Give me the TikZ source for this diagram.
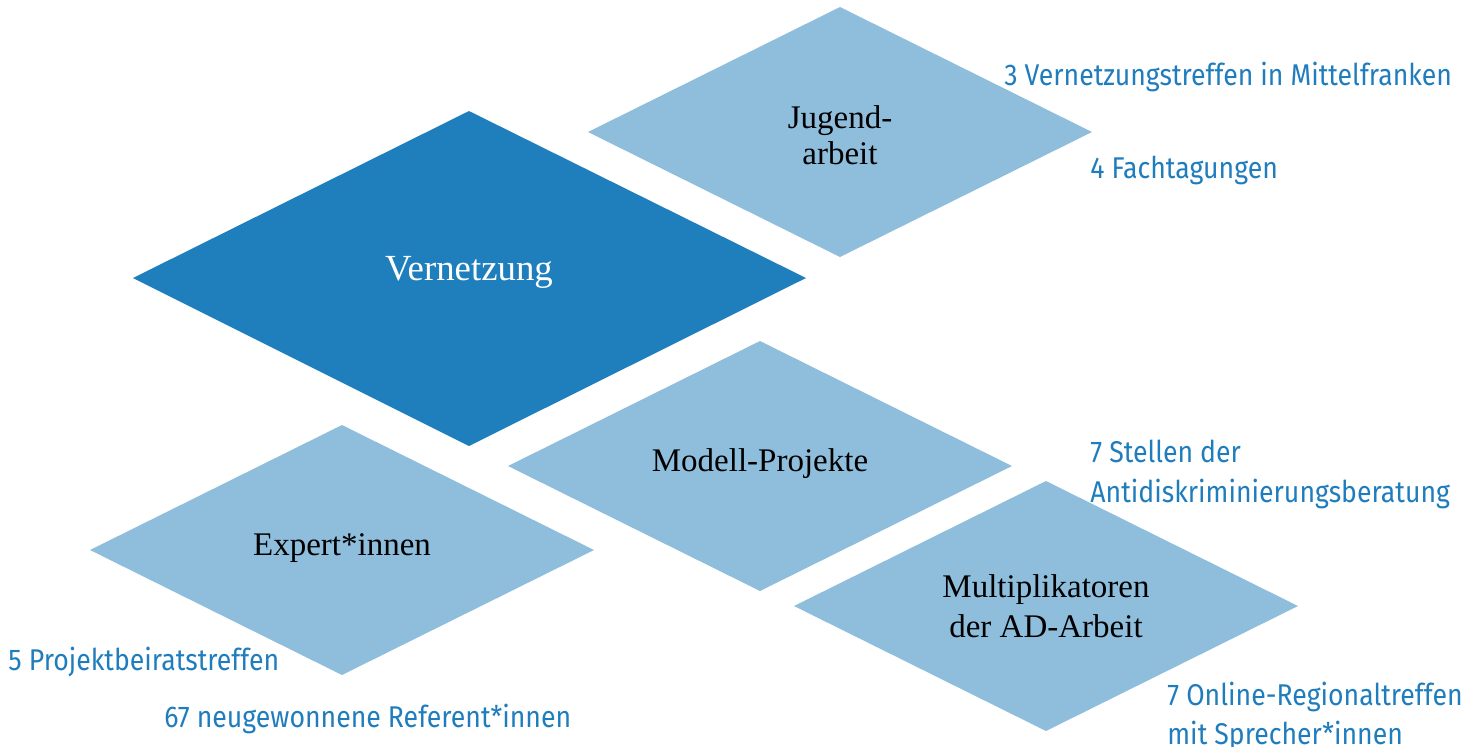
\documentclass[tikz,border=0pt]{standalone}
\usepackage{fontspec}
\setmainfont{Liberation Serif}
\newfontfamily\annfont[FakeStretch=0.888]{Fira Sans}
\definecolor{darkblue}{RGB}{31,127,188}
\definecolor{lightblue}{RGB}{143,190,221}
\definecolor{anncol}{RGB}{31,125,189}
\tikzset{
  lbl/.style={anchor=base, font=\fontsize{16.5}{20}\selectfont, text=black, inner sep=0pt},
  ann/.style={anchor=base west, font=\annfont\fontsize{15}{18}\selectfont, text=anncol, inner sep=0pt},
}
\newcommand{\rhomb}[4]{% center x, y, color, name
  \fill[#3] (#1-252,#2) coordinate (#4W) -- (#1,#2-125) coordinate (#4N) -- (#1+252,#2) coordinate (#4E) -- (#1,#2+125) coordinate (#4S) -- cycle;
  \coordinate (#4) at (#1,#2);
}
\begin{document}
\begin{tikzpicture}[x=0.5pt,y=-0.5pt]
\useasboundingbox (0,0) rectangle (1480,746);
% diamonds
\fill[darkblue] (133,278) coordinate (vW) -- (469,111) coordinate (vN) -- (806,278) coordinate (vE) -- (469,446) coordinate (vS) -- cycle;
\rhomb{840}{132}{lightblue}{jug}
\rhomb{760}{466}{lightblue}{mod}
\rhomb{342}{550}{lightblue}{exp}
\rhomb{1046}{606}{lightblue}{mul}
% labels
\node[lbl, text=white, font=\fontsize{18.4}{22}\selectfont] (vlab) at (469,280) {Vernetzung};
\node[lbl] (jug1) at (840,128) {Jugend-};
\node[lbl] (jug2) at (840,164) {arbeit};
\node[lbl] (modlab) at (760,471) {Modell-Projekte};
\node[lbl] (explab) at (342,555) {Expert*innen};
\node[lbl] (mul1) at (1046,597) {Multiplikatoren};
\node[lbl] (mul2) at (1046,637) {der AD-Arbeit};
% annotations
\node[ann] (a1) at (1004,85) {3 Vernetzungstreffen in Mittelfranken};
\node[ann] (a2) at (1090,178) {4 Fachtagungen};
\node[ann] (a3) at (1090,462) {7 Stellen der};
\node[ann] (a4) at (1090,502) {Antidiskriminierungsberatung};
\node[ann] (a5) at (8,670) {5 Projektbeiratstreffen};
\node[ann] (a6) at (164,727) {67 neugewonnene Referent*innen};
\node[ann] (a7) at (1167,705) {7 Online-Regionaltreffen};
\node[ann] (a8) at (1167,744) {mit Sprecher*innen};
\end{tikzpicture}
\end{document}
